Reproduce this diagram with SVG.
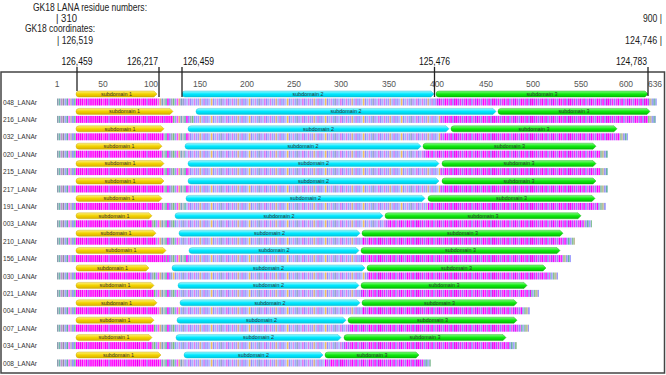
<svg xmlns="http://www.w3.org/2000/svg" width="666" height="375" viewBox="0 0 666 375">
<style>
text{font-family:"Liberation Sans",Arial,sans-serif}
.hd{font-size:10px;fill:#222}
.co{font-size:10px;fill:#111}
.rn{font-size:8.5px;fill:#555;text-anchor:middle}
.lab{font-size:7px;fill:#333}
.at{font-size:5.4px;fill:#333;text-anchor:middle}
.sd1{fill:url(#gY);stroke:#c8a000;stroke-width:.4}
.sd2{fill:url(#gC);stroke:#10b8d0;stroke-width:.4}
.sd3{fill:url(#gG);stroke:#10a010;stroke-width:.4}
.vl{stroke:#222;stroke-width:1.3;fill:none}
.nt{fill:url(#pNt)}.mg{fill:url(#pMag)}.lk{fill:url(#pLink)}.md{fill:url(#pMid)}.pu{fill:url(#pPur)}.tl{fill:url(#pTail)}
</style>
<defs>
<linearGradient id="gY" x1="0" y1="0" x2="0" y2="1"><stop offset="0" stop-color="#fff27a"/><stop offset=".5" stop-color="#f2d200"/><stop offset="1" stop-color="#d8b000"/></linearGradient>
<linearGradient id="gC" x1="0" y1="0" x2="0" y2="1"><stop offset="0" stop-color="#9ff9ff"/><stop offset=".5" stop-color="#00e8ff"/><stop offset="1" stop-color="#00c8e0"/></linearGradient>
<linearGradient id="gG" x1="0" y1="0" x2="0" y2="1"><stop offset="0" stop-color="#80ff80"/><stop offset=".5" stop-color="#10e810"/><stop offset="1" stop-color="#00c000"/></linearGradient>
<pattern id="pNt" width="19" height="10" patternUnits="userSpaceOnUse"><rect width="19" height="10" fill="#eeeaf4"/><rect x="0" width="1.5" height="10" fill="#8c9cb0"/><rect x="1.9" width="1.5" height="10" fill="#70b8b0"/><rect x="3.8" width="1.5" height="10" fill="#c090d0"/><rect x="5.7" width="1.5" height="10" fill="#9090a0"/><rect x="7.6" width="1.5" height="10" fill="#a0a0ff"/><rect x="9.5" width="1.5" height="10" fill="#60a8a8"/><rect x="11.4" width="1.5" height="10" fill="#ff60ff"/><rect x="13.3" width="1.5" height="10" fill="#b0b0c0"/><rect x="15.2" width="1.5" height="10" fill="#8080ff"/><rect x="17.1" width="1.5" height="10" fill="#70c0a0"/></pattern>
<pattern id="pMag" width="38" height="10" patternUnits="userSpaceOnUse"><rect width="38" height="10" fill="#f6e6f8"/><rect x="0" width="1.5" height="10" fill="#ff00ff"/><rect x="1.9" width="1.5" height="10" fill="#ff00ff"/><rect x="3.8" width="1.5" height="10" fill="#f010f0"/><rect x="5.7" width="1.5" height="10" fill="#ff00ff"/><rect x="7.6" width="1.5" height="10" fill="#ff30ff"/><rect x="9.5" width="1.5" height="10" fill="#ff00ff"/><rect x="11.4" width="1.5" height="10" fill="#c040ff"/><rect x="13.3" width="1.5" height="10" fill="#ff00ff"/><rect x="15.2" width="1.5" height="10" fill="#ff00ff"/><rect x="17.1" width="1.5" height="10" fill="#ff10f8"/><rect x="19" width="1.5" height="10" fill="#ff00ff"/><rect x="20.9" width="1.5" height="10" fill="#ff00ff"/><rect x="22.8" width="1.5" height="10" fill="#e000e8"/><rect x="24.7" width="1.5" height="10" fill="#ff00ff"/><rect x="26.6" width="1.5" height="10" fill="#ff40ff"/><rect x="28.5" width="1.5" height="10" fill="#ff00ff"/><rect x="30.4" width="1.5" height="10" fill="#ff00ff"/><rect x="32.3" width="1.5" height="10" fill="#b060ff"/><rect x="34.2" width="1.5" height="10" fill="#ff00ff"/><rect x="36.1" width="1.5" height="10" fill="#ff00ff"/></pattern>
<pattern id="pLink" width="19" height="10" patternUnits="userSpaceOnUse"><rect width="19" height="10" fill="#eeeaf4"/><rect x="0" width="1.5" height="10" fill="#a0a8b8"/><rect x="1.9" width="1.5" height="10" fill="#70c080"/><rect x="3.8" width="1.5" height="10" fill="#9898ff"/><rect x="5.7" width="1.5" height="10" fill="#ff50ff"/><rect x="7.6" width="1.5" height="10" fill="#e0b080"/><rect x="9.5" width="1.5" height="10" fill="#80a0c0"/><rect x="11.4" width="1.5" height="10" fill="#b8b8c8"/><rect x="13.3" width="1.5" height="10" fill="#60b8b0"/><rect x="15.2" width="1.5" height="10" fill="#ff00ff"/><rect x="17.1" width="1.5" height="10" fill="#9080ff"/></pattern>
<pattern id="pMid" width="38" height="10" patternUnits="userSpaceOnUse"><rect width="38" height="10" fill="#f0eefa"/><rect x="0" width="1.5" height="10" fill="#9a8cff"/><rect x="1.9" width="1.5" height="10" fill="#a8b4ff"/><rect x="3.8" width="1.5" height="10" fill="#e07cf0"/><rect x="5.7" width="1.5" height="10" fill="#98a8ff"/><rect x="7.6" width="1.5" height="10" fill="#b494ff"/><rect x="9.5" width="1.5" height="10" fill="#d8b090"/><rect x="11.4" width="1.5" height="10" fill="#a0b0ff"/><rect x="13.3" width="1.5" height="10" fill="#c878f0"/><rect x="15.2" width="1.5" height="10" fill="#8ea0ff"/><rect x="17.1" width="1.5" height="10" fill="#a890ff"/><rect x="19" width="1.5" height="10" fill="#b0c0ff"/><rect x="20.9" width="1.5" height="10" fill="#f0c060"/><rect x="22.8" width="1.5" height="10" fill="#9c8cff"/><rect x="24.7" width="1.5" height="10" fill="#a4b8ff"/><rect x="26.6" width="1.5" height="10" fill="#d890f0"/><rect x="28.5" width="1.5" height="10" fill="#9aaaff"/><rect x="30.4" width="1.5" height="10" fill="#8f9ccc"/><rect x="32.3" width="1.5" height="10" fill="#b090ff"/><rect x="34.2" width="1.5" height="10" fill="#a8b8ff"/><rect x="36.1" width="1.5" height="10" fill="#e070f0"/></pattern>
<pattern id="pPur" width="38" height="10" patternUnits="userSpaceOnUse"><rect width="38" height="10" fill="#f4e8fa"/><rect x="0" width="1.5" height="10" fill="#ff00ff"/><rect x="1.9" width="1.5" height="10" fill="#b050ff"/><rect x="3.8" width="1.5" height="10" fill="#ff20ff"/><rect x="5.7" width="1.5" height="10" fill="#a070ff"/><rect x="7.6" width="1.5" height="10" fill="#e040ff"/><rect x="9.5" width="1.5" height="10" fill="#ff00ff"/><rect x="11.4" width="1.5" height="10" fill="#c060ff"/><rect x="13.3" width="1.5" height="10" fill="#ff00ff"/><rect x="15.2" width="1.5" height="10" fill="#9080ff"/><rect x="17.1" width="1.5" height="10" fill="#ff40ff"/><rect x="19" width="1.5" height="10" fill="#b040ff"/><rect x="20.9" width="1.5" height="10" fill="#ff00ff"/><rect x="22.8" width="1.5" height="10" fill="#d050ff"/><rect x="24.7" width="1.5" height="10" fill="#a080ff"/><rect x="26.6" width="1.5" height="10" fill="#ff00ff"/><rect x="28.5" width="1.5" height="10" fill="#ff20ff"/><rect x="30.4" width="1.5" height="10" fill="#b060ff"/><rect x="32.3" width="1.5" height="10" fill="#ff00ff"/><rect x="34.2" width="1.5" height="10" fill="#9a70ff"/><rect x="36.1" width="1.5" height="10" fill="#e000f0"/></pattern>
<pattern id="pTail" width="9.5" height="10" patternUnits="userSpaceOnUse"><rect width="9.5" height="10" fill="#eeeaf4"/><rect x="0" width="1.5" height="10" fill="#a0a0ff"/><rect x="1.9" width="1.5" height="10" fill="#80c090"/><rect x="3.8" width="1.5" height="10" fill="#c0b890"/><rect x="5.7" width="1.5" height="10" fill="#9090ff"/><rect x="7.6" width="1.5" height="10" fill="#60b0a0"/></pattern>
</defs>
<rect width="666" height="375" fill="#ffffff"/>
<g id="header">
<text class="hd" x="33" y="11" textLength="114" lengthAdjust="spacingAndGlyphs">GK18 LANA residue numbers:</text>
<text class="hd" x="56" y="21.5" textLength="21" lengthAdjust="spacingAndGlyphs">| 310</text>
<text class="hd" x="25" y="32" textLength="70" lengthAdjust="spacingAndGlyphs">GK18 coordinates:</text>
<text class="hd" x="57" y="44" textLength="36" lengthAdjust="spacingAndGlyphs">| 126,519</text>
<text class="hd" x="643" y="21.5" textLength="19" lengthAdjust="spacingAndGlyphs">900 |</text>
<text class="hd" x="625" y="44" textLength="37" lengthAdjust="spacingAndGlyphs">124,746 |</text>
<text class="co" x="61.5" y="65" textLength="31" lengthAdjust="spacingAndGlyphs">126,459</text>
<text class="co" x="127" y="65" textLength="31" lengthAdjust="spacingAndGlyphs">126,217</text>
<text class="co" x="183" y="65" textLength="31" lengthAdjust="spacingAndGlyphs">126,459</text>
<text class="co" x="419" y="65" textLength="31" lengthAdjust="spacingAndGlyphs">125,476</text>
<text class="co" x="616" y="65" textLength="31" lengthAdjust="spacingAndGlyphs">124,783</text>
</g>
<rect id="frame" x="1" y="72" width="663.5" height="301" fill="none" stroke="#444" stroke-width="1.5"/>
<g id="ruler">
<text class="rn" x="57" y="87">1</text>
<text class="rn" x="103" y="87">50</text>
<text class="rn" x="151" y="87">100</text>
<text class="rn" x="200" y="87">150</text>
<text class="rn" x="247" y="87">200</text>
<text class="rn" x="294" y="87">250</text>
<text class="rn" x="341" y="87">300</text>
<text class="rn" x="389" y="87">350</text>
<text class="rn" x="437" y="87">400</text>
<text class="rn" x="486" y="87">450</text>
<text class="rn" x="533" y="87">500</text>
<text class="rn" x="581" y="87">550</text>
<text class="rn" x="626" y="87">600</text>
<text class="rn" x="655" y="87">636</text>
</g>
<g id="r048" transform="translate(0,102)">
<text class="lab" x="3" y="2.5" textLength="34" lengthAdjust="spacingAndGlyphs">048_LANAr</text>
<rect class="nt" x="57" y="-3.5" width="19" height="7"/><rect class="mg" x="76" y="-3.5" width="81" height="7"/><rect class="lk" x="157" y="-3.5" width="25" height="7"/><rect class="md" x="182" y="-3.5" width="254" height="7"/><rect class="pu" x="436" y="-3.5" width="213" height="7"/><rect class="tl" x="649" y="-3.5" width="8" height="7"/>
<path class="sd1" d="M79,-11H154L157,-8L154,-5H79A3,3 0 0 1 79,-11Z"/><text class="at" x="116.5" y="-6.2">subdomain 1</text>
<path class="sd2" d="M185,-11H431L434,-8L431,-5H185A3,3 0 0 1 185,-11Z"/><text class="at" x="308" y="-6.2">subdomain 2</text>
<path class="sd3" d="M439,-11H645L648,-8L645,-5H439A3,3 0 0 1 439,-11Z"/><text class="at" x="542" y="-6.2">subdomain 3</text>
</g>
<g id="r216" transform="translate(0,119.4)">
<text class="lab" x="3" y="2.5" textLength="34" lengthAdjust="spacingAndGlyphs">216_LANAr</text>
<rect class="nt" x="57" y="-3.5" width="19" height="7"/><rect class="mg" x="76" y="-3.5" width="97" height="7"/><rect class="lk" x="173" y="-3.5" width="23" height="7"/><rect class="md" x="196" y="-3.5" width="244" height="7"/><rect class="pu" x="440" y="-3.5" width="208" height="7"/><rect class="tl" x="648" y="-3.5" width="8" height="7"/>
<path class="sd1" d="M79,-11H170L173,-8L170,-5H79A3,3 0 0 1 79,-11Z"/><text class="at" x="124.5" y="-6.2">subdomain 1</text>
<path class="sd2" d="M199,-11H493L496,-8L493,-5H199A3,3 0 0 1 199,-11Z"/><text class="at" x="346" y="-6.2">subdomain 2</text>
<path class="sd3" d="M501,-11H647L650,-8L647,-5H501A3,3 0 0 1 501,-11Z"/><text class="at" x="574" y="-6.2">subdomain 3</text>
</g>
<g id="r032" transform="translate(0,136.8)">
<text class="lab" x="3" y="2.5" textLength="34" lengthAdjust="spacingAndGlyphs">032_LANAr</text>
<rect class="nt" x="57" y="-3.5" width="19" height="7"/><rect class="mg" x="76" y="-3.5" width="88" height="7"/><rect class="lk" x="164" y="-3.5" width="24" height="7"/><rect class="md" x="188" y="-3.5" width="252" height="7"/><rect class="pu" x="440" y="-3.5" width="180" height="7"/><rect class="tl" x="620" y="-3.5" width="8" height="7"/>
<path class="sd1" d="M79,-11H161L164,-8L161,-5H79A3,3 0 0 1 79,-11Z"/><text class="at" x="120" y="-6.2">subdomain 1</text>
<path class="sd2" d="M191,-11H446L449,-8L446,-5H191A3,3 0 0 1 191,-11Z"/><text class="at" x="318.5" y="-6.2">subdomain 2</text>
<path class="sd3" d="M454,-11H614L617,-8L614,-5H454A3,3 0 0 1 454,-11Z"/><text class="at" x="534" y="-6.2">subdomain 3</text>
</g>
<g id="r020" transform="translate(0,154.2)">
<text class="lab" x="3" y="2.5" textLength="34" lengthAdjust="spacingAndGlyphs">020_LANAr</text>
<rect class="nt" x="57" y="-3.5" width="19" height="7"/><rect class="mg" x="76" y="-3.5" width="86" height="7"/><rect class="lk" x="162" y="-3.5" width="23" height="7"/><rect class="md" x="185" y="-3.5" width="238" height="7"/><rect class="pu" x="423" y="-3.5" width="177" height="7"/><rect class="tl" x="600" y="-3.5" width="8" height="7"/>
<path class="sd1" d="M79,-11H159L162,-8L159,-5H79A3,3 0 0 1 79,-11Z"/><text class="at" x="119" y="-6.2">subdomain 1</text>
<path class="sd2" d="M188,-11H418L421,-8L418,-5H188A3,3 0 0 1 188,-11Z"/><text class="at" x="303" y="-6.2">subdomain 2</text>
<path class="sd3" d="M426,-11H593L596,-8L593,-5H426A3,3 0 0 1 426,-11Z"/><text class="at" x="509.5" y="-6.2">subdomain 3</text>
</g>
<g id="r215" transform="translate(0,171.6)">
<text class="lab" x="3" y="2.5" textLength="34" lengthAdjust="spacingAndGlyphs">215_LANAr</text>
<rect class="nt" x="57" y="-3.5" width="19" height="7"/><rect class="mg" x="76" y="-3.5" width="88" height="7"/><rect class="lk" x="164" y="-3.5" width="24" height="7"/><rect class="md" x="188" y="-3.5" width="252" height="7"/><rect class="pu" x="440" y="-3.5" width="160" height="7"/><rect class="tl" x="600" y="-3.5" width="8" height="7"/>
<path class="sd1" d="M79,-11H161L164,-8L161,-5H79A3,3 0 0 1 79,-11Z"/><text class="at" x="120" y="-6.2">subdomain 1</text>
<path class="sd2" d="M191,-11H436L439,-8L436,-5H191A3,3 0 0 1 191,-11Z"/><text class="at" x="313.5" y="-6.2">subdomain 2</text>
<path class="sd3" d="M445,-11H593L596,-8L593,-5H445A3,3 0 0 1 445,-11Z"/><text class="at" x="519" y="-6.2">subdomain 3</text>
</g>
<g id="r217" transform="translate(0,189)">
<text class="lab" x="3" y="2.5" textLength="34" lengthAdjust="spacingAndGlyphs">217_LANAr</text>
<rect class="nt" x="57" y="-3.5" width="19" height="7"/><rect class="mg" x="76" y="-3.5" width="88" height="7"/><rect class="lk" x="164" y="-3.5" width="24" height="7"/><rect class="md" x="188" y="-3.5" width="252" height="7"/><rect class="pu" x="440" y="-3.5" width="160" height="7"/><rect class="tl" x="600" y="-3.5" width="8" height="7"/>
<path class="sd1" d="M79,-11H161L164,-8L161,-5H79A3,3 0 0 1 79,-11Z"/><text class="at" x="120" y="-6.2">subdomain 1</text>
<path class="sd2" d="M191,-11H436L439,-8L436,-5H191A3,3 0 0 1 191,-11Z"/><text class="at" x="313.5" y="-6.2">subdomain 2</text>
<path class="sd3" d="M445,-11H593L596,-8L593,-5H445A3,3 0 0 1 445,-11Z"/><text class="at" x="519" y="-6.2">subdomain 3</text>
</g>
<g id="r191" transform="translate(0,206.4)">
<text class="lab" x="3" y="2.5" textLength="34" lengthAdjust="spacingAndGlyphs">191_LANAr</text>
<rect class="nt" x="57" y="-3.5" width="19" height="7"/><rect class="mg" x="76" y="-3.5" width="86" height="7"/><rect class="lk" x="162" y="-3.5" width="24" height="7"/><rect class="md" x="186" y="-3.5" width="242" height="7"/><rect class="pu" x="428" y="-3.5" width="170" height="7"/><rect class="tl" x="598" y="-3.5" width="8" height="7"/>
<path class="sd1" d="M79,-11H159L162,-8L159,-5H79A3,3 0 0 1 79,-11Z"/><text class="at" x="119" y="-6.2">subdomain 1</text>
<path class="sd2" d="M189,-11H422L425,-8L422,-5H189A3,3 0 0 1 189,-11Z"/><text class="at" x="305.5" y="-6.2">subdomain 2</text>
<path class="sd3" d="M431,-11H592L595,-8L592,-5H431A3,3 0 0 1 431,-11Z"/><text class="at" x="511.5" y="-6.2">subdomain 3</text>
</g>
<g id="r003" transform="translate(0,223.8)">
<text class="lab" x="3" y="2.5" textLength="34" lengthAdjust="spacingAndGlyphs">003_LANAr</text>
<rect class="nt" x="57" y="-3.5" width="19" height="7"/><rect class="mg" x="76" y="-3.5" width="76" height="7"/><rect class="lk" x="152" y="-3.5" width="23" height="7"/><rect class="md" x="175" y="-3.5" width="210" height="7"/><rect class="pu" x="385" y="-3.5" width="199" height="7"/><rect class="tl" x="584" y="-3.5" width="8" height="7"/>
<path class="sd1" d="M79,-11H149L152,-8L149,-5H79A3,3 0 0 1 79,-11Z"/><text class="at" x="114" y="-6.2">subdomain 1</text>
<path class="sd2" d="M178,-11H380L383,-8L380,-5H178A3,3 0 0 1 178,-11Z"/><text class="at" x="279" y="-6.2">subdomain 2</text>
<path class="sd3" d="M388,-11H578L581,-8L578,-5H388A3,3 0 0 1 388,-11Z"/><text class="at" x="483" y="-6.2">subdomain 3</text>
</g>
<g id="r210" transform="translate(0,241.2)">
<text class="lab" x="3" y="2.5" textLength="34" lengthAdjust="spacingAndGlyphs">210_LANAr</text>
<rect class="nt" x="57" y="-3.5" width="19" height="7"/><rect class="mg" x="76" y="-3.5" width="80" height="7"/><rect class="lk" x="156" y="-3.5" width="23" height="7"/><rect class="md" x="179" y="-3.5" width="183" height="7"/><rect class="pu" x="362" y="-3.5" width="205" height="7"/><rect class="tl" x="567" y="-3.5" width="8" height="7"/>
<path class="sd1" d="M79,-11H153L156,-8L153,-5H79A3,3 0 0 1 79,-11Z"/><text class="at" x="116" y="-6.2">subdomain 1</text>
<path class="sd2" d="M182,-11H357L360,-8L357,-5H182A3,3 0 0 1 182,-11Z"/><text class="at" x="269.5" y="-6.2">subdomain 2</text>
<path class="sd3" d="M365,-11H560L563,-8L560,-5H365A3,3 0 0 1 365,-11Z"/><text class="at" x="462.5" y="-6.2">subdomain 3</text>
</g>
<g id="r156" transform="translate(0,258.6)">
<text class="lab" x="3" y="2.5" textLength="34" lengthAdjust="spacingAndGlyphs">156_LANAr</text>
<rect class="nt" x="57" y="-3.5" width="19" height="7"/><rect class="mg" x="76" y="-3.5" width="90" height="7"/><rect class="lk" x="166" y="-3.5" width="23" height="7"/><rect class="md" x="189" y="-3.5" width="172" height="7"/><rect class="pu" x="361" y="-3.5" width="202" height="7"/><rect class="tl" x="563" y="-3.5" width="8" height="7"/>
<path class="sd1" d="M79,-11H163L166,-8L163,-5H79A3,3 0 0 1 79,-11Z"/><text class="at" x="121" y="-6.2">subdomain 1</text>
<path class="sd2" d="M192,-11H356L359,-8L356,-5H192A3,3 0 0 1 192,-11Z"/><text class="at" x="274" y="-6.2">subdomain 2</text>
<path class="sd3" d="M364,-11H557L560,-8L557,-5H364A3,3 0 0 1 364,-11Z"/><text class="at" x="460.5" y="-6.2">subdomain 3</text>
</g>
<g id="r030" transform="translate(0,276)">
<text class="lab" x="3" y="2.5" textLength="34" lengthAdjust="spacingAndGlyphs">030_LANAr</text>
<rect class="nt" x="57" y="-3.5" width="19" height="7"/><rect class="mg" x="76" y="-3.5" width="73" height="7"/><rect class="lk" x="149" y="-3.5" width="23" height="7"/><rect class="md" x="172" y="-3.5" width="195" height="7"/><rect class="pu" x="367" y="-3.5" width="183" height="7"/><rect class="tl" x="550" y="-3.5" width="8" height="7"/>
<path class="sd1" d="M79,-11H146L149,-8L146,-5H79A3,3 0 0 1 79,-11Z"/><text class="at" x="112.5" y="-6.2">subdomain 1</text>
<path class="sd2" d="M175,-11H362L365,-8L362,-5H175A3,3 0 0 1 175,-11Z"/><text class="at" x="268.5" y="-6.2">subdomain 2</text>
<path class="sd3" d="M370,-11H543L546,-8L543,-5H370A3,3 0 0 1 370,-11Z"/><text class="at" x="456.5" y="-6.2">subdomain 3</text>
</g>
<g id="r021" transform="translate(0,293.4)">
<text class="lab" x="3" y="2.5" textLength="34" lengthAdjust="spacingAndGlyphs">021_LANAr</text>
<rect class="nt" x="57" y="-3.5" width="19" height="7"/><rect class="mg" x="76" y="-3.5" width="78" height="7"/><rect class="lk" x="154" y="-3.5" width="24" height="7"/><rect class="md" x="178" y="-3.5" width="183" height="7"/><rect class="pu" x="361" y="-3.5" width="170" height="7"/><rect class="tl" x="531" y="-3.5" width="8" height="7"/>
<path class="sd1" d="M79,-11H151L154,-8L151,-5H79A3,3 0 0 1 79,-11Z"/><text class="at" x="115" y="-6.2">subdomain 1</text>
<path class="sd2" d="M181,-11H356L359,-8L356,-5H181A3,3 0 0 1 181,-11Z"/><text class="at" x="268.5" y="-6.2">subdomain 2</text>
<path class="sd3" d="M364,-11H524L527,-8L524,-5H364A3,3 0 0 1 364,-11Z"/><text class="at" x="444" y="-6.2">subdomain 3</text>
</g>
<g id="r004" transform="translate(0,310.8)">
<text class="lab" x="3" y="2.5" textLength="34" lengthAdjust="spacingAndGlyphs">004_LANAr</text>
<rect class="nt" x="57" y="-3.5" width="19" height="7"/><rect class="mg" x="76" y="-3.5" width="81" height="7"/><rect class="lk" x="157" y="-3.5" width="23" height="7"/><rect class="md" x="180" y="-3.5" width="182" height="7"/><rect class="pu" x="362" y="-3.5" width="160" height="7"/><rect class="tl" x="522" y="-3.5" width="8" height="7"/>
<path class="sd1" d="M79,-11H154L157,-8L154,-5H79A3,3 0 0 1 79,-11Z"/><text class="at" x="116.5" y="-6.2">subdomain 1</text>
<path class="sd2" d="M183,-11H357L360,-8L357,-5H183A3,3 0 0 1 183,-11Z"/><text class="at" x="270" y="-6.2">subdomain 2</text>
<path class="sd3" d="M365,-11H514L517,-8L514,-5H365A3,3 0 0 1 365,-11Z"/><text class="at" x="439.5" y="-6.2">subdomain 3</text>
</g>
<g id="r007" transform="translate(0,328.2)">
<text class="lab" x="3" y="2.5" textLength="34" lengthAdjust="spacingAndGlyphs">007_LANAr</text>
<rect class="nt" x="57" y="-3.5" width="19" height="7"/><rect class="mg" x="76" y="-3.5" width="78" height="7"/><rect class="lk" x="154" y="-3.5" width="23" height="7"/><rect class="md" x="177" y="-3.5" width="171" height="7"/><rect class="pu" x="348" y="-3.5" width="173" height="7"/><rect class="tl" x="521" y="-3.5" width="8" height="7"/>
<path class="sd1" d="M79,-11H151L154,-8L151,-5H79A3,3 0 0 1 79,-11Z"/><text class="at" x="115" y="-6.2">subdomain 1</text>
<path class="sd2" d="M180,-11H343L346,-8L343,-5H180A3,3 0 0 1 180,-11Z"/><text class="at" x="261.5" y="-6.2">subdomain 2</text>
<path class="sd3" d="M351,-11H514L517,-8L514,-5H351A3,3 0 0 1 351,-11Z"/><text class="at" x="432.5" y="-6.2">subdomain 3</text>
</g>
<g id="r034" transform="translate(0,345.6)">
<text class="lab" x="3" y="2.5" textLength="34" lengthAdjust="spacingAndGlyphs">034_LANAr</text>
<rect class="nt" x="57" y="-3.5" width="19" height="7"/><rect class="mg" x="76" y="-3.5" width="76" height="7"/><rect class="lk" x="152" y="-3.5" width="24" height="7"/><rect class="md" x="176" y="-3.5" width="168" height="7"/><rect class="pu" x="344" y="-3.5" width="165" height="7"/><rect class="tl" x="509" y="-3.5" width="8" height="7"/>
<path class="sd1" d="M79,-11H149L152,-8L149,-5H79A3,3 0 0 1 79,-11Z"/><text class="at" x="114" y="-6.2">subdomain 1</text>
<path class="sd2" d="M179,-11H338L341,-8L338,-5H179A3,3 0 0 1 179,-11Z"/><text class="at" x="258.5" y="-6.2">subdomain 2</text>
<path class="sd3" d="M347,-11H503L506,-8L503,-5H347A3,3 0 0 1 347,-11Z"/><text class="at" x="425" y="-6.2">subdomain 3</text>
</g>
<g id="r008" transform="translate(0,363)">
<text class="lab" x="3" y="2.5" textLength="34" lengthAdjust="spacingAndGlyphs">008_LANAr</text>
<rect class="nt" x="57" y="-3.5" width="19" height="7"/><rect class="mg" x="76" y="-3.5" width="85" height="7"/><rect class="lk" x="161" y="-3.5" width="23" height="7"/><rect class="md" x="184" y="-3.5" width="141" height="7"/><rect class="pu" x="325" y="-3.5" width="98" height="7"/><rect class="tl" x="423" y="-3.5" width="8" height="7"/>
<path class="sd1" d="M79,-11H158L161,-8L158,-5H79A3,3 0 0 1 79,-11Z"/><text class="at" x="118.5" y="-6.2">subdomain 1</text>
<path class="sd2" d="M187,-11H320L323,-8L320,-5H187A3,3 0 0 1 187,-11Z"/><text class="at" x="253.5" y="-6.2">subdomain 2</text>
<path class="sd3" d="M328,-11H416L419,-8L416,-5H328A3,3 0 0 1 328,-11Z"/><text class="at" x="372" y="-6.2">subdomain 3</text>
</g>
<g id="connectors">
<line class="vl" x1="77" y1="67" x2="77" y2="91"/>
<line class="vl" x1="159" y1="67" x2="159" y2="97"/>
<line class="vl" x1="182" y1="67" x2="182" y2="97"/>
<line class="vl" x1="434.5" y1="67" x2="434.5" y2="97"/>
<line class="vl" x1="648" y1="67" x2="648" y2="96"/>
</g>
</svg>
